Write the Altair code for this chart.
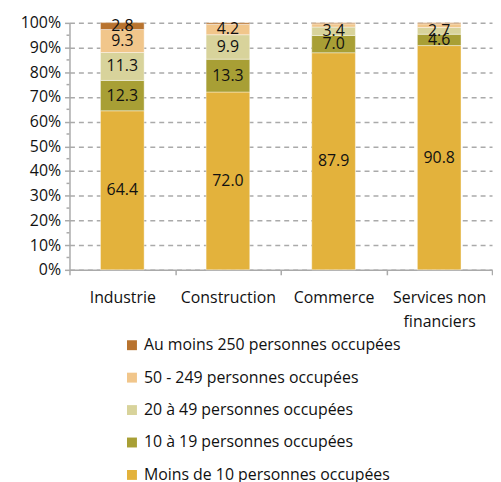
import altair as alt
import pandas as pd

categories = ["Industrie", "Construction", "Commerce", "Services non financiers"]
sizes = [
    "Moins de 10 personnes occupées",
    "10 à 19 personnes occupées",
    "20 à 49 personnes occupées",
    "50 - 249 personnes occupées",
    "Au moins 250 personnes occupées",
]
moins10 = [64.4, 72.0, 87.9, 90.8]
p10_19 = [12.3, 13.3, 7.0, 4.6]
p20_49 = [11.3, 9.9, 3.4, 2.7]
p50_249 = [9.3, 4.2, 1.3, 1.5]
p250 = [2.8, 0.6, 0.4, 0.4]
colors = ["#E3B23C", "#A89F35", "#D8D39B", "#F1C68B", "#B8732F"]
major_ticks = [0, 10, 20, 30, 40, 50, 60, 70, 80, 90, 100]
minor_ticks = [5, 15, 25, 35, 45, 55, 65, 75, 85, 95]

series = [moins10, p10_19, p20_49, p50_249, p250]
rows = []
for r, (s, vals) in enumerate(zip(sizes, series)):
    for c, v in zip(categories, vals):
        rows.append({"cat": c, "size": s, "rank": r, "value": v})
df = pd.DataFrame(rows)

FONT = "Open Sans"

base = alt.Chart(df).transform_stack(
    stack="value", groupby=["cat"], sort=[alt.SortField("rank")], as_=["v0", "v1"]
).transform_calculate(mid="(datum.v0 + datum.v1) / 2")

x_axis = alt.Axis(
    labelAngle=0,
    labelFontSize=16,
    labelColor="#111",
    labelPadding=15,
    tickBand="extent",
    tickSize=5,
    tickColor="#aaa",
    tickWidth=1.5,
    domainColor="#aaa",
    domainWidth=1.5,
    labelExpr="datum.label == 'Services non financiers' ? ['Services non', 'financiers'] : datum.label",
    labelLineHeight=24,
    labelBaseline="top",
    labelLimit=300,
)
y_scale = alt.Scale(domain=[0, 100], nice=False)
y_axis = alt.Axis(
    values=major_ticks,
    tickCount=11,
    labelExpr="datum.value + '%'",
    labelFontSize=16,
    labelColor="#111",
    labelOverlap=False,
    gridDash=[5, 4],
    gridColor="#aaa",
    gridWidth=1.5,
    tickSize=5,
    tickColor="#aaa",
    tickWidth=1.5,
    domainColor="#aaa",
    domainWidth=1.5,
    labelPadding=4,
)

bars = base.mark_bar(size=44, stroke="white", strokeWidth=0.4).encode(
    x=alt.X("cat:N", sort=categories, title=None,
            scale=alt.Scale(paddingInner=0.0, paddingOuter=0.0), axis=x_axis),
    y=alt.Y("v0:Q", title=None, scale=y_scale, axis=y_axis),
    y2="v1:Q",
    color=alt.Color(
        "size:N",
        scale=alt.Scale(domain=sizes[::-1], range=colors[::-1]),
        legend=alt.Legend(
            title=None,
            orient="none",
            legendX=55,
            legendY=317,
            symbolType="square",
            symbolSize=100,
            symbolStrokeWidth=0,
            labelFontSize=16,
            labelColor="#111",
            labelFont=FONT,
            labelLimit=400,
            rowPadding=16.7,
            labelOffset=4,
        ),
    ),
    order=alt.Order("rank:Q"),
)

labels = base.transform_filter("datum.value >= 2.5").mark_text(
    fontSize=16, color="#111", font=FONT
).encode(
    x=alt.X("cat:N", sort=categories, title=None, axis=x_axis),
    y=alt.Y("mid:Q", title=None, scale=y_scale, axis=y_axis),
    text=alt.Text("value:Q", format=".1f"),
)

minor = alt.Chart(pd.DataFrame({"t": minor_ticks})).mark_rule(
    color="#aaa", strokeWidth=1.5
).encode(
    y=alt.Y("t:Q", title=None, scale=y_scale, axis=y_axis),
    x=alt.value(-3), x2=alt.value(0),
)

chart = alt.layer(bars, labels, minor).properties(
    width=426, height=249, padding={"left": 12, "top": 5, "right": 0, "bottom": 5}
).configure(font=FONT).configure_view(stroke=None)

chart.save("out.html", embed_options={"renderer": "svg", "actions": False})
